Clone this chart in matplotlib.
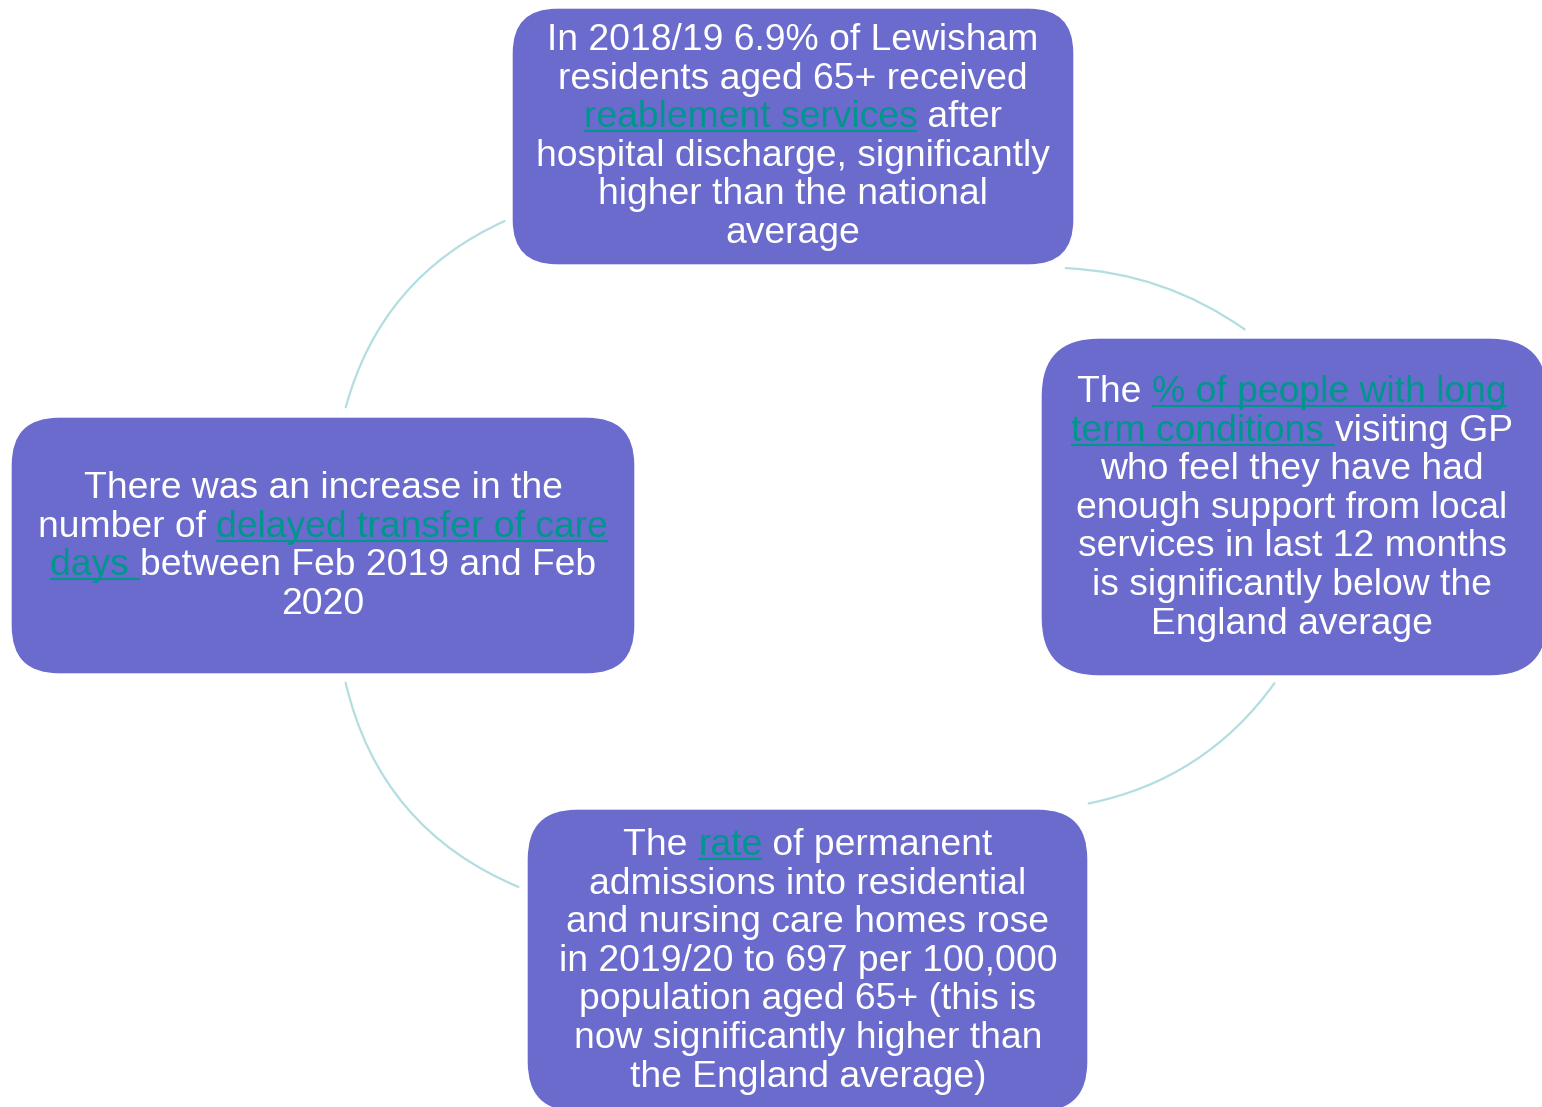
import matplotlib
matplotlib.use("Agg")
import matplotlib.pyplot as plt
from matplotlib.patches import FancyBboxPatch, FancyArrowPatch

W, H = 1542, 1107
BOX_COLOR = "#6B6BCD"
LINK_COLOR = "#00968E"
ARC_COLOR = "#B3DEE0"
FONT = "Liberation Sans"
FS = 26.8
LINE_STEP = 38.6

# text of each box: lines made of (text, is_link) pieces
top_lines = [
    [("In 2018/19 6.9% of Lewisham", False)],
    [("residents aged 65+ received", False)],
    [("reablement services", True), (" after", False)],
    [("hospital discharge, significantly", False)],
    [("higher than the national", False)],
    [("average", False)],
]
right_lines = [
    [("The ", False), ("% of people with long", True)],
    [("term conditions ", True), ("visiting GP", False)],
    [("who feel they have had", False)],
    [("enough support from local", False)],
    [("services in last 12 months", False)],
    [("is significantly below the", False)],
    [("England average", False)],
]
left_lines = [
    [("There was an increase in the", False)],
    [("number of ", False), ("delayed transfer of care", True)],
    [("days ", True), ("between Feb 2019 and Feb", False)],
    [("2020", False)],
]
bottom_lines = [
    [("The ", False), ("rate", True), (" of permanent", False)],
    [("admissions into residential", False)],
    [("and nursing care homes rose", False)],
    [("in 2019/20 to 697 per 100,000", False)],
    [("population aged 65+ (this is", False)],
    [("now significantly higher than", False)],
    [("the England average)", False)],
]

# box geometry in pixels: x0, y0, x1, y1, corner radius, text centre x, first baseline
boxes = [
    (512, 8, 1074, 265, 45, 793, 50, top_lines),
    (1041, 338, 1548, 676, 58, 1292, 402, right_lines),
    (11, 417, 635, 674, 48, 323, 498, left_lines),
    (527, 809, 1088, 1112, 50, 808, 855, bottom_lines),
]

# connector arcs: start, end, curvature
arcs = [
    ((507, 220), (345, 410), 0.24),
    ((1063, 268), (1247, 331), -0.15),
    ((1276, 681), (1086, 804), -0.20),
    ((345, 680), (521, 888), 0.26),
]

fig = plt.figure(figsize=(W / 100, H / 100), dpi=100)
ax = fig.add_axes([0, 0, 1, 1])
ax.set_xlim(0, W)
ax.set_ylim(H, 0)
ax.axis("off")

for p0, p1, rad in arcs:
    ax.add_patch(FancyArrowPatch(p0, p1, arrowstyle="-", connectionstyle=f"arc3,rad={rad}",
                                 color=ARC_COLOR, lw=1.6))

for x0, y0, x1, y1, r, cx, base, lines in boxes:
    ax.add_patch(FancyBboxPatch((x0, y0), x1 - x0, y1 - y0,
                                boxstyle=f"round,pad=0,rounding_size={r}",
                                fc=BOX_COLOR, ec="white", lw=1))

renderer = fig.canvas.get_renderer()


def text_width(s):
    # width including trailing spaces
    t1 = ax.text(0, 0, s + "|", fontsize=FS, family=FONT)
    t2 = ax.text(0, 0, "|", fontsize=FS, family=FONT)
    w = t1.get_window_extent(renderer).width - t2.get_window_extent(renderer).width
    t1.remove()
    t2.remove()
    return w


for x0, y0, x1, y1, r, cx, base, lines in boxes:
    for i, parts in enumerate(lines):
        y = base + i * LINE_STEP
        widths = [text_width(s) for s, _ in parts]
        x = cx - sum(widths) / 2
        for (s, link), w in zip(parts, widths):
            col = LINK_COLOR if link else "white"
            ax.text(x, y, s, fontsize=FS, family=FONT, color=col, ha="left", va="baseline")
            if link:
                ax.plot([x, x + w], [y + 4, y + 4], color=LINK_COLOR, lw=1.5, solid_capstyle="butt")
            x += w

fig.savefig("out.png", dpi=100, facecolor="white")
